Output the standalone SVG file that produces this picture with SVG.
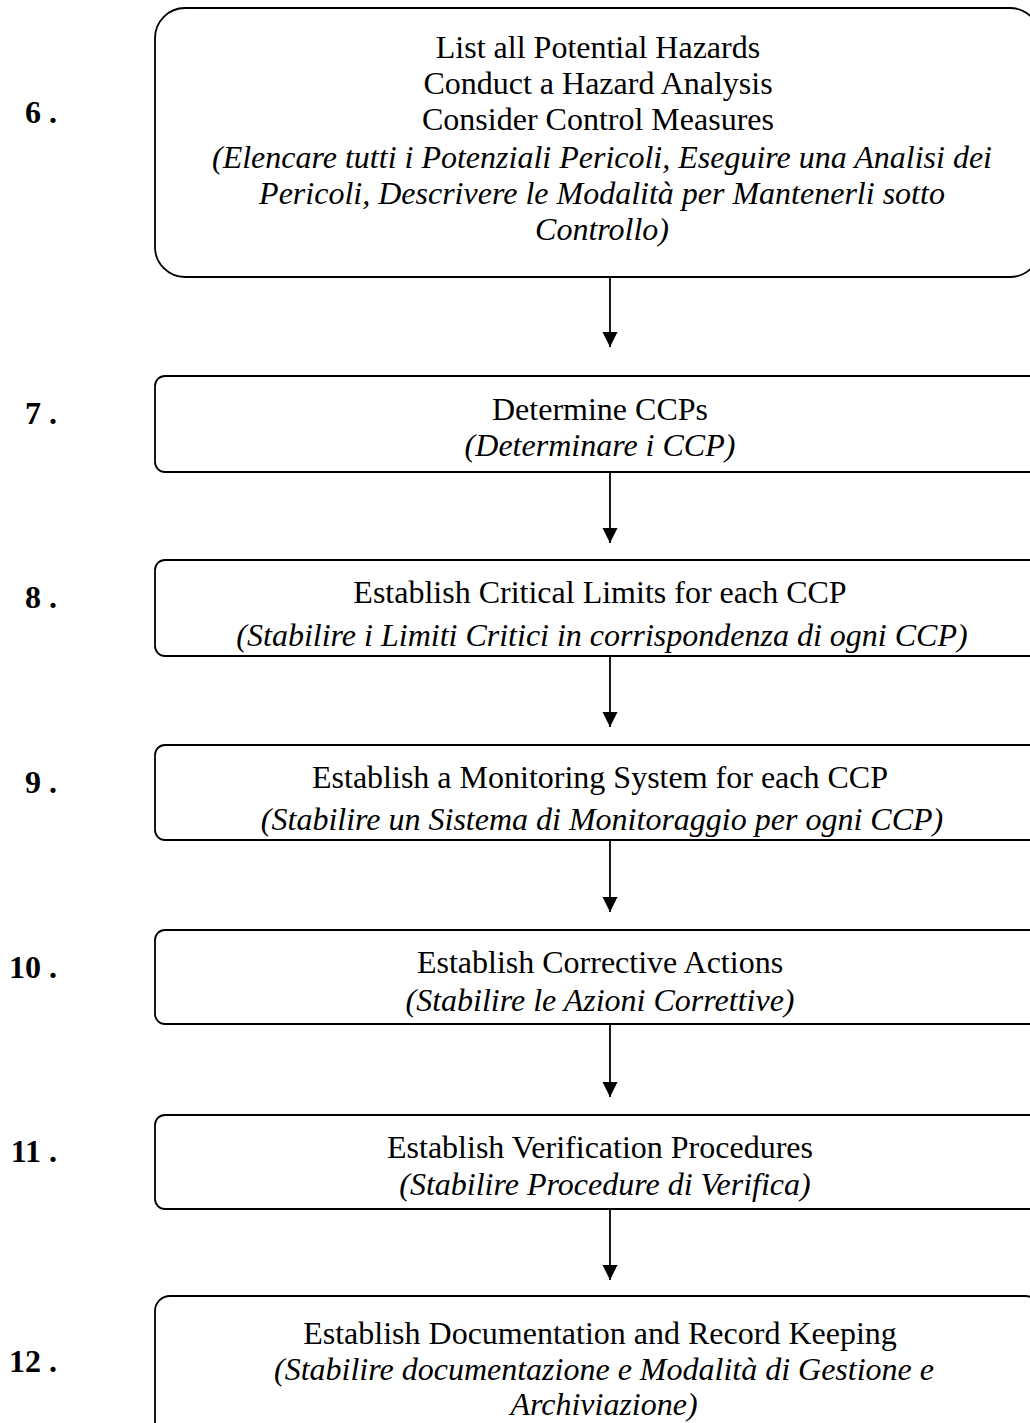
<svg xmlns="http://www.w3.org/2000/svg" width="1030" height="1423" viewBox="0 0 1030 1423">
<style>
.box{fill:#fff;stroke:#000;stroke-width:1.8}
.t{font-family:"Liberation Serif","Times New Roman",serif;font-size:32px;text-anchor:middle;fill:#000}
.i{font-style:italic}
.n{font-family:"Liberation Serif","Times New Roman",serif;font-size:32px;font-weight:bold;text-anchor:end;fill:#000}
.c{stroke:#000;stroke-width:1.8;fill:none}
</style>
<defs>
<marker id="ah" markerWidth="16" markerHeight="16" refX="15" refY="7.5" orient="auto" markerUnits="userSpaceOnUse">
<path d="M0,0 L15,7.5 L0,15 Z" fill="#000"/>
</marker>
<clipPath id="clip8"><rect x="150" y="555" width="900" height="100"/></clipPath>
<clipPath id="clip9"><rect x="150" y="740" width="900" height="99"/></clipPath>
</defs>
<rect width="1030" height="1423" fill="#fff"/>
<g id="labels">
<text class="n" x="57" y="123">6 .</text>
<text class="n" x="57" y="424">7 .</text>
<text class="n" x="57" y="608">8 .</text>
<text class="n" x="57" y="793">9 .</text>
<text class="n" x="57" y="978">10 .</text>
<text class="n" x="57" y="1162">11 .</text>
<text class="n" x="57" y="1372">12 .</text>
</g>
<g id="node6">
<rect class="box" x="155" y="8" width="885" height="269" rx="30"/>
<text class="t" x="598" y="58">List all Potential Hazards</text>
<text class="t" x="598" y="94">Conduct a Hazard Analysis</text>
<text class="t" x="598" y="130">Consider Control Measures</text>
<text class="t i" x="602" y="168">(Elencare tutti i Potenziali Pericoli, Eseguire una Analisi dei</text>
<text class="t i" x="602" y="204">Pericoli, Descrivere le Modalità per Mantenerli sotto</text>
<text class="t i" x="602" y="240">Controllo)</text>
</g>
<g id="node7">
<rect class="box" x="155" y="376" width="885" height="96" rx="10"/>
<text class="t" x="600" y="420">Determine CCPs</text>
<text class="t i" x="600" y="456">(Determinare i CCP)</text>
</g>
<g id="node8">
<rect class="box" x="155" y="560" width="885" height="96" rx="10"/>
<text class="t" x="600" y="603">Establish Critical Limits for each CCP</text>
<text class="t i" x="602" y="646" clip-path="url(#clip8)">(Stabilire i Limiti Critici in corrispondenza di ogni CCP)</text>
</g>
<g id="node9">
<rect class="box" x="155" y="745" width="885" height="95" rx="10"/>
<text class="t" x="600" y="788">Establish a Monitoring System for each CCP</text>
<text class="t i" x="602" y="830" clip-path="url(#clip9)">(Stabilire un Sistema di Monitoraggio per ogni CCP)</text>
</g>
<g id="node10">
<rect class="box" x="155" y="930" width="885" height="94" rx="10"/>
<text class="t" x="600" y="973">Establish Corrective Actions</text>
<text class="t i" x="600" y="1011">(Stabilire le Azioni Correttive)</text>
</g>
<g id="node11">
<rect class="box" x="155" y="1115" width="885" height="94" rx="10"/>
<text class="t" x="600" y="1158">Establish Verification Procedures</text>
<text class="t i" x="605" y="1195">(Stabilire Procedure di Verifica)</text>
</g>
<g id="node12">
<rect class="box" x="155" y="1296" width="885" height="160" rx="15"/>
<text class="t" x="600" y="1344">Establish Documentation and Record Keeping</text>
<text class="t i" x="604" y="1380">(Stabilire documentazione e Modalità di Gestione e</text>
<text class="t i" x="604" y="1415">Archiviazione)</text>
</g>
<g id="connectors">
<line class="c" x1="610" y1="277" x2="610" y2="347" marker-end="url(#ah)"/>
<line class="c" x1="610" y1="472" x2="610" y2="543" marker-end="url(#ah)"/>
<line class="c" x1="610" y1="656" x2="610" y2="727" marker-end="url(#ah)"/>
<line class="c" x1="610" y1="840" x2="610" y2="912" marker-end="url(#ah)"/>
<line class="c" x1="610" y1="1024" x2="610" y2="1097" marker-end="url(#ah)"/>
<line class="c" x1="610" y1="1209" x2="610" y2="1280" marker-end="url(#ah)"/>
</g>
</svg>
